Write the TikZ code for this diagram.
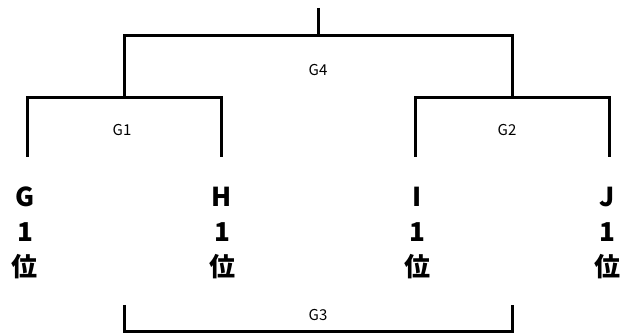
\documentclass[tikz,border=0pt]{standalone}
\usepackage{fontspec}
\setmainfont{Noto Sans CJK JP}
\usetikzlibrary{positioning, calc}

\begin{document}
\begin{tikzpicture}[
  x=1pt, y=-1pt,
  team/.style={font=\fontsize{26}{35}\selectfont\bfseries, align=center, inner sep=0pt},
  glabel/.style={font=\fontsize{15}{17}\selectfont, inner sep=0pt},
  bracket/.style={line width=3pt}
]
\useasboundingbox (0,0) rectangle (625,334);

% ===== Teams =====
\node[team] (teamG) at (25,233) {G\\1\\位};
\node[team] (teamH) at (222,233) {H\\1\\位};
\node[team] (teamI) at (417,233) {I\\1\\位};
\node[team] (teamJ) at (607,233) {J\\1\\位};

% ===== Bracket points =====
\coordinate (root) at (318,8);
\coordinate (g4bar) at (318,36);
\coordinate (g1top) at (124,98);
\coordinate (g2top) at (512,98);
\coordinate (gtop) at (27,157);
\coordinate (htop) at (221,157);
\coordinate (itop) at (415,157);
\coordinate (jtop) at (609,157);
\coordinate (g3L) at (124,305);
\coordinate (g3R) at (512,305);
\coordinate (g3bar) at (318,331.5);

% ===== Group labels =====
\node[glabel] (g4) at (318,70) {G4};
\node[glabel] (g1) at (122,130) {G1};
\node[glabel] (g2) at (507,130) {G2};
\node[glabel] (g3) at (318,315) {G3};

% ===== Brackets =====
\draw[bracket] (root) -- (g4bar);
\draw[bracket] (g1top) -- (g1top |- g4bar) -- (g2top |- g4bar) -- (g2top);
\draw[bracket] (gtop) -- (gtop |- g1top) -- (htop |- g1top) -- (htop);
\draw[bracket] (itop) -- (itop |- g2top) -- (jtop |- g2top) -- (jtop);
\draw[bracket] (g3L) -- (g3L |- g3bar) -- (g3R |- g3bar) -- (g3R);

\end{tikzpicture}
\end{document}
